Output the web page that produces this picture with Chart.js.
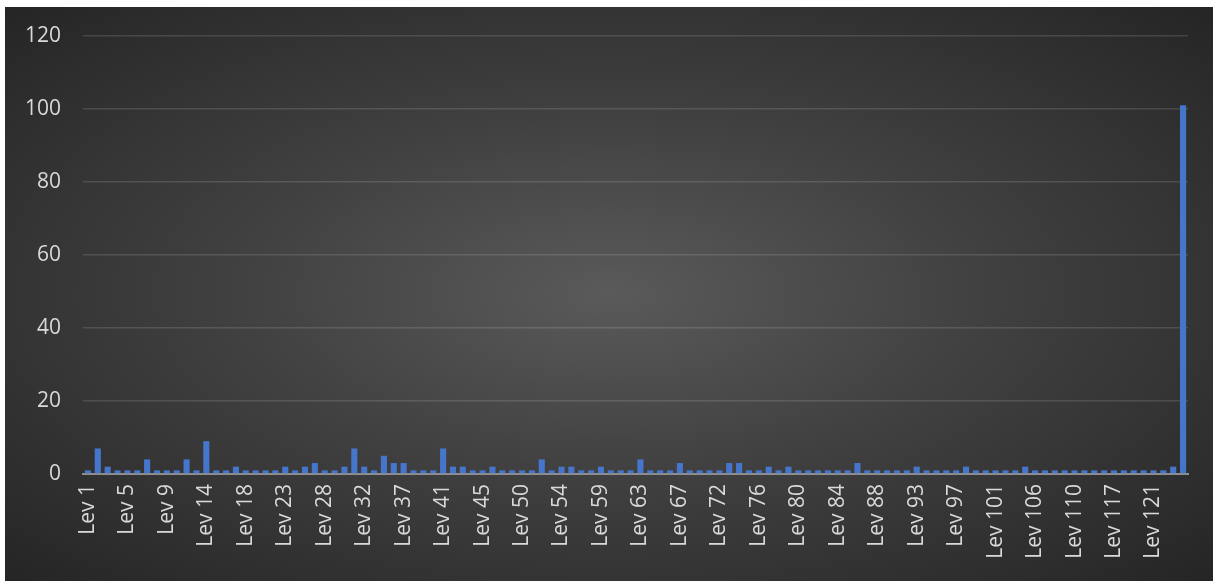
<html lang="en">
<head>
    <meta charset="UTF-8">
    <title>Lev</title>
    <script src="https://cdn.jsdelivr.net/npm/chart.js"></script>
    <style>
        html, body { margin: 0; padding: 0; background: #ffffff; }
        #panel {
            position: absolute; left: 5px; top: 7px; width: 1208px; height: 574px;
            background: radial-gradient(ellipse at 50% 50%, #5a5a5a 0%, #404040 45%, #252525 100%);
        }
    </style>
</head>
<body>
    <div id="panel"><canvas id="levChart" width="1208" height="574"></canvas></div>

    <script>
        const levels = [
            'Lev 1', 'Lev 2', 'Lev 3', 'Lev 4', 'Lev 5', 'Lev 6', 'Lev 7', 'Lev 8',
            'Lev 9', 'Lev 10', 'Lev 11', 'Lev 12', 'Lev 14', 'Lev 15', 'Lev 16', 'Lev 17',
            'Lev 18', 'Lev 19', 'Lev 20', 'Lev 21', 'Lev 23', 'Lev 24', 'Lev 25', 'Lev 26',
            'Lev 28', 'Lev 29', 'Lev 30', 'Lev 31', 'Lev 32', 'Lev 33', 'Lev 34', 'Lev 35',
            'Lev 37', 'Lev 38', 'Lev 39', 'Lev 40', 'Lev 41', 'Lev 42', 'Lev 43', 'Lev 44',
            'Lev 45', 'Lev 46', 'Lev 47', 'Lev 48', 'Lev 50', 'Lev 51', 'Lev 52', 'Lev 53',
            'Lev 54', 'Lev 55', 'Lev 56', 'Lev 57', 'Lev 59', 'Lev 60', 'Lev 61', 'Lev 62',
            'Lev 63', 'Lev 64', 'Lev 65', 'Lev 66', 'Lev 67', 'Lev 68', 'Lev 69', 'Lev 70',
            'Lev 72', 'Lev 73', 'Lev 74', 'Lev 75', 'Lev 76', 'Lev 77', 'Lev 78', 'Lev 79',
            'Lev 80', 'Lev 81', 'Lev 82', 'Lev 83', 'Lev 84', 'Lev 85', 'Lev 86', 'Lev 87',
            'Lev 88', 'Lev 89', 'Lev 90', 'Lev 91', 'Lev 93', 'Lev 94', 'Lev 95', 'Lev 96',
            'Lev 97', 'Lev 98', 'Lev 99', 'Lev 100', 'Lev 101', 'Lev 102', 'Lev 103', 'Lev 104',
            'Lev 106', 'Lev 107', 'Lev 108', 'Lev 109', 'Lev 110', 'Lev 111', 'Lev 112', 'Lev 113',
            'Lev 117', 'Lev 118', 'Lev 119', 'Lev 120', 'Lev 121', 'Lev 122', 'Lev 123', 'Lev 124'
        ];

        const counts = [
            1, 7, 2, 1, 1, 1, 4, 1, 1, 1, 4, 1, 9, 1, 1, 2,
            1, 1, 1, 1, 2, 1, 2, 3, 1, 1, 2, 7, 2, 1, 5, 3,
            3, 1, 1, 1, 7, 2, 2, 1, 1, 2, 1, 1, 1, 1, 4, 1,
            2, 2, 1, 1, 2, 1, 1, 1, 4, 1, 1, 1, 3, 1, 1, 1,
            1, 3, 3, 1, 1, 2, 1, 2, 1, 1, 1, 1, 1, 1, 3, 1,
            1, 1, 1, 1, 2, 1, 1, 1, 1, 2, 1, 1, 1, 1, 1, 2,
            1, 1, 1, 1, 1, 1, 1, 1, 1, 1, 1, 1, 1, 1, 2, 101
        ];

        const yTicks = [0, 20, 40, 60, 80, 100, 120];

        const textColor = '#d9d9d9';
        const fontFamily = '"Open Sans", "Liberation Sans", sans-serif';

        const ctx = document.getElementById('levChart').getContext('2d');
        const chart = new Chart(ctx, {
            type: 'bar',
            data: {
                labels: levels,
                datasets: [{
                    data: counts,
                    backgroundColor: '#4675cc',
                    borderWidth: 0,
                    categoryPercentage: 1.0,
                    barPercentage: 0.62
                }]
            },
            options: {
                responsive: false,
                animation: false,
                layout: {
                    padding: { top: 29, right: 25, left: 0, bottom: 0 }
                },
                plugins: {
                    legend: { display: false },
                    tooltip: { enabled: false }
                },
                scales: {
                    x: {
                        grid: { display: false, drawTicks: false },
                        border: { display: true, color: '#8e8e8e', width: 2 },
                        ticks: {
                            autoSkip: false,
                            minRotation: 90,
                            maxRotation: 90,
                            padding: 10,
                            color: textColor,
                            font: { family: fontFamily, size: 21 },
                            callback: function(value, index) {
                                return index % 4 === 0 ? levels[index] : '';
                            }
                        },
                        afterFit: function(scale) {
                            scale.height = 107;
                            scale.paddingLeft = 0;
                            scale.paddingRight = 0;
                        }
                    },
                    y: {
                        min: 0,
                        max: 120,
                        afterBuildTicks: function(scale) {
                            scale.ticks = yTicks.map(v => ({ value: v }));
                        },
                        grid: {
                            drawTicks: false,
                            color: function(c) {
                                return c.tick && c.tick.value === 0 ? 'rgba(0,0,0,0)' : 'rgba(255,255,255,0.13)';
                            },
                            lineWidth: 1.5
                        },
                        border: { display: false },
                        ticks: {
                            padding: 22,
                            color: textColor,
                            font: { family: fontFamily, size: 21 }
                        },
                        afterFit: function(scale) {
                            scale.width = 78;
                            scale.paddingTop = 0;
                            scale.paddingBottom = 0;
                        }
                    }
                }
            }
        });
    </script>
</body>
</html>
